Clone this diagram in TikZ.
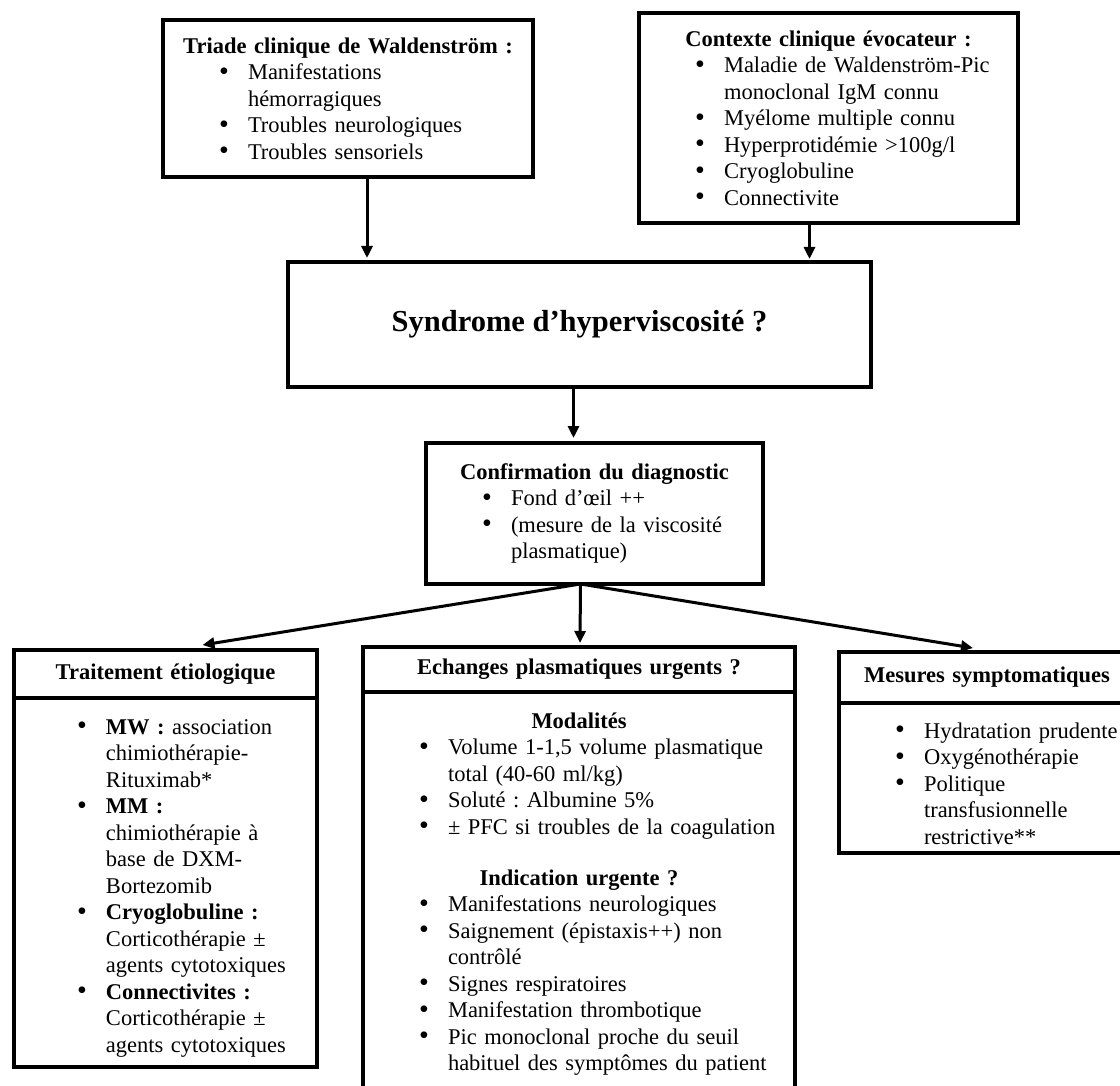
\documentclass[tikz,border=0pt]{standalone}
\usepackage{fontspec}
\setmainfont{Liberation Serif}
\usetikzlibrary{positioning}
\usetikzlibrary{calc}
\usetikzlibrary{arrows.meta}

% une puce avec retrait suspendu
\newcommand{\puce}[2][56]{\par\hangindent=\dimexpr #1pt+29pt\relax\hangafter=1\noindent\hspace*{#1pt}\makebox[29pt][l]{\raisebox{-0.5pt}{\fontsize{28}{0}\selectfont\textbullet}}#2\par}
\newcommand{\titre}[1]{{\centering\bfseries #1\par}}

\begin{document}
\frenchspacing
\begin{tikzpicture}[x=1pt,y=-1pt,
    boite/.style={draw,rectangle,line width=3.5pt,inner sep=0pt,outer sep=0pt,font=\fontsize{22.5}{26.5}\selectfont},
    fleche/.style={->,line width=3pt},
    >={Triangle[length=12pt,width=11pt]}]
  \useasboundingbox (0,0) rectangle (1120,1086);
  \clip (0,0) rectangle (1120,1086);
  \fill [white] (0,0) rectangle (1120,1086);

  \node (triade) [boite,anchor=north west,text width=370pt,minimum height=157pt] at (163,20) {\titre{Triade clinique de Waldenström :}
    \puce{Manifestations\newline hémorragiques}
    \puce{Troubles neurologiques}
    \puce{Troubles sensoriels}};
  \node (contexte) [boite,anchor=north west,text width=379pt,minimum height=210pt] at (639,13) {\titre{Contexte clinique évocateur :}
    \puce{Maladie de Waldenström-Pic\newline monoclonal IgM connu}
    \puce{Myélome multiple connu}
    \puce{Hyperprotidémie >100g/l}
    \puce{Cryoglobuline}
    \puce{Connectivite}};
  \node (syndrome) [boite,anchor=north west,minimum width=583pt,minimum height=125pt,font=\fontsize{30.5}{36}\selectfont\bfseries] at (288,262) {Syndrome d’hyperviscosité ?};
  \node (diagnostic) [boite,anchor=north west,text width=337pt,minimum height=141pt] at (426,443) {\titre{Confirmation du diagnostic}
    \puce{Fond d’œil ++}
    \puce{(mesure de la viscosité\newline plasmatique)}};

  % les trois prises en charge
  \node (etiologiqueTitre) [boite,anchor=north west,text width=303pt,minimum height=48pt] at (14,650) {\titre{Traitement étiologique}};
  \node (etiologiqueCorps) [boite,below=0pt of etiologiqueTitre,text width=303pt,minimum height=369pt] {\puce[63]{\textbf{MW :} association\newline chimiothérapie-\newline Rituximab*}
    \puce[63]{\textbf{MM :}\newline chimiothérapie à\newline base de DXM-\newline Bortezomib}
    \puce[63]{\textbf{Cryoglobuline :}\newline Corticothérapie ±\newline agents cytotoxiques}
    \puce[63]{\textbf{Connectivites :}\newline Corticothérapie ±\newline agents cytotoxiques}};
  \node (echangesTitre) [boite,anchor=north west,text width=432pt,minimum height=45pt] at (363,647) {\titre{Echanges plasmatiques urgents ?}};
  \node (echangesCorps) [boite,below=0pt of echangesTitre,text width=432pt,minimum height=404pt] {\titre{Modalités}
    \puce{Volume 1-1,5 volume plasmatique\newline total (40-60 ml/kg)}
    \puce{Soluté : Albumine 5\%}
    \puce{± PFC si troubles de la coagulation}
    \vspace{24.5pt}
    \titre{Indication urgente ?}
    \puce{Manifestations neurologiques}
    \puce{Saignement (épistaxis++) non\newline contrôlé}
    \puce{Signes respiratoires}
    \puce{Manifestation thrombotique}
    \puce{Pic monoclonal proche du seuil\newline habituel des symptômes du patient}};
  \node (mesuresTitre) [boite,anchor=north west,text width=296pt,minimum height=51pt] at (839,652) {\titre{Mesures symptomatiques}};
  \node (mesuresCorps) [boite,below=0pt of mesuresTitre,text width=296pt,minimum height=150pt] {\puce{Hydratation prudente}
    \puce{Oxygénothérapie}
    \puce{Politique\newline transfusionnelle\newline restrictive**}};

  % fleches
  \coordinate (triadeBas) at ($(triade.south)+(19,0)$);
  \coordinate (contexteBas) at ($(contexte.south)+(-19,2)$);
  \coordinate (syndromeBas) at ($(syndrome.south)+(-6,0)$);
  \coordinate (fourche) at ($(diagnostic.south)+(-14,0)$);
  \draw [fleche] (triadeBas) to ($(triadeBas |- syndrome.north)+(0,-4)$);
  \draw [fleche] (contexteBas) to ($(contexteBas |- syndrome.north)+(0,-3)$);
  \draw [fleche] (syndromeBas) to ($(syndromeBas |- diagnostic.north)+(0,-5)$);
  \draw [fleche] (fourche) to ($(etiologiqueTitre.north)+(37,-5)$);
  \draw [fleche] (fourche) to ($(echangesTitre.north)+(1,-4)$);
  \draw [fleche] (fourche) to ($(mesuresTitre.north)+(-14,-4)$);
\end{tikzpicture}
\end{document}
